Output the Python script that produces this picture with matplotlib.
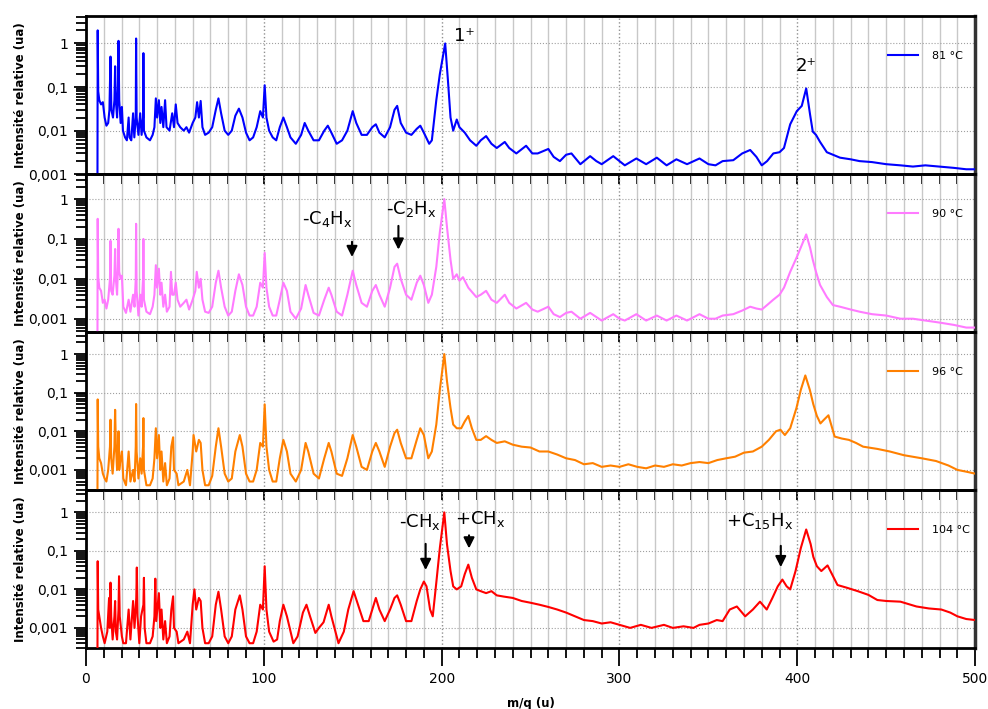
import numpy as np
import matplotlib
matplotlib.use('Agg')
from matplotlib import pyplot as plt
from matplotlib.ticker import FixedLocator, LogLocator, MultipleLocator, NullFormatter

temperatures = ['81 °C', '90 °C', '96 °C', '104 °C']
colors = ['#0000ff', '#ff7bff', '#ff8000', '#ff0000']

spec_81 = np.array([
    (6.4, 1e-5), (6.6, 2.0), (6.9, 0.08), (7.5, 0.05), (8.5, 0.04), (9.5, 0.045), (10.5, 0.02), (11.5, 0.013),
    (12.5, 0.015), (13.2, 0.03), (13.8, 0.5), (14.3, 0.03), (15.2, 0.02), (16.0, 0.05), (16.4, 0.3), (16.8, 0.05),
    (17.5, 0.02), (18.0, 0.1), (18.3, 1.15), (18.7, 0.05), (19.5, 0.015), (20.2, 0.035), (20.8, 0.01), (22, 0.007),
    (23, 0.006), (24, 0.02), (24.5, 0.007), (25.5, 0.006), (26.5, 0.025), (27.2, 0.007), (28.0, 0.02), (28.2, 1.3),
    (28.5, 0.02), (29.5, 0.008), (30.5, 0.025), (31.3, 0.008), (32.1, 0.02), (32.3, 0.6), (32.6, 0.01), (34, 0.007),
    (36, 0.006), (37.5, 0.008), (38.5, 0.012), (39.3, 0.055), (40, 0.02), (41, 0.05), (41.8, 0.015), (42.5, 0.035),
    (43.5, 0.012), (44.5, 0.05), (45.3, 0.012), (47, 0.01), (48.5, 0.025), (49.5, 0.012), (50.5, 0.04), (51.5, 0.015),
    (53, 0.012), (55, 0.01), (56.5, 0.012), (58, 0.009), (60, 0.015), (61.5, 0.02), (62.5, 0.045), (63.5, 0.02),
    (64.5, 0.048), (65.5, 0.012), (67, 0.008), (69, 0.009), (71, 0.012), (73, 0.03), (74.5, 0.055), (76, 0.025),
    (78, 0.01), (80, 0.008), (82, 0.01), (84, 0.022), (86, 0.032), (88, 0.02), (90, 0.009), (92, 0.006), (94, 0.007),
    (96, 0.012), (98, 0.028), (99.5, 0.02), (100.5, 0.11), (101.5, 0.02), (103, 0.01), (105, 0.007), (107, 0.006),
    (109, 0.012), (111, 0.02), (113, 0.012), (115, 0.007), (118, 0.005), (121, 0.008), (123, 0.015), (125, 0.01),
    (128, 0.006), (131, 0.006), (134, 0.01), (136, 0.013), (138, 0.009), (141, 0.005), (144, 0.006), (147, 0.01),
    (150, 0.028), (152, 0.015), (155, 0.008), (158, 0.008), (161, 0.012), (163, 0.014), (165, 0.009), (168, 0.007),
    (171, 0.012), (173.5, 0.03), (175, 0.037), (177, 0.015), (180, 0.009), (183, 0.008), (186, 0.011), (188, 0.013),
    (190, 0.009), (193, 0.005), (194.5, 0.006), (197, 0.05), (199, 0.2), (202, 1.0), (203.5, 0.15), (205, 0.02),
    (206.5, 0.01), (208.5, 0.018), (210, 0.012), (213, 0.009), (216, 0.006), (219.5, 0.0045), (222, 0.006),
    (225, 0.0075), (228, 0.005), (231, 0.004), (235.5, 0.0055), (238, 0.004), (242, 0.003), (247.5, 0.0045),
    (251, 0.003), (254, 0.003), (260, 0.0038), (263, 0.0025), (266.5, 0.002), (270, 0.0028), (273, 0.003),
    (278, 0.0017), (283.5, 0.0026), (287, 0.002), (290, 0.0017), (296.5, 0.0026), (300, 0.002), (303, 0.0016),
    (309.5, 0.0023), (315, 0.0017), (321, 0.0024), (326.5, 0.0016), (332, 0.0022), (338, 0.0017), (345, 0.0023),
    (350, 0.0017), (354, 0.0016), (358, 0.002), (364, 0.0021), (369, 0.003), (373.5, 0.0036), (377, 0.0025),
    (380, 0.0016), (383, 0.002), (386.5, 0.003), (390, 0.0032), (392.5, 0.004), (396, 0.014), (399.7, 0.028),
    (402.5, 0.037), (405, 0.093), (407.2, 0.023), (408.7, 0.0095), (410.5, 0.008), (412.8, 0.0055), (416.6, 0.0032),
    (420, 0.0028), (424, 0.0024), (430, 0.0022), (435, 0.002), (442, 0.0019), (450, 0.0017), (458, 0.0016),
    (465, 0.0015), (472, 0.0016), (480, 0.0015), (488, 0.0014), (495, 0.0013), (500, 0.0013),
])

spec_90 = np.array([
    (6.4, 1e-5), (6.6, 0.32), (6.9, 0.011), (7.5, 0.006), (8.5, 0.005), (9.5, 0.0025), (10.5, 0.003), (11.5, 0.0018),
    (12.5, 0.003), (13.5, 0.01), (13.8, 0.09), (14.2, 0.005), (15, 0.004), (16, 0.012), (16.4, 0.056), (16.8, 0.01),
    (17.5, 0.004), (18.0, 0.02), (18.3, 0.18), (18.7, 0.015), (19.5, 0.01), (20.2, 0.012), (21, 0.002),
    (22.5, 0.0014), (24, 0.003), (25, 0.0015), (26.5, 0.004), (27.3, 0.002), (28.0, 0.01), (28.2, 0.24),
    (28.5, 0.005), (29.5, 0.0012), (30.5, 0.004), (31.3, 0.002), (32.1, 0.01), (32.3, 0.1), (32.6, 0.003),
    (34, 0.0015), (36, 0.0013), (37.5, 0.002), (38.5, 0.004), (39.3, 0.022), (40, 0.006), (41, 0.018), (41.8, 0.004),
    (42.5, 0.008), (43.5, 0.002), (44.5, 0.004), (45.5, 0.0015), (47, 0.002), (47.8, 0.015), (48.5, 0.004),
    (49.5, 0.004), (50.5, 0.008), (51.5, 0.003), (53, 0.002), (55, 0.0025), (56.5, 0.003), (58, 0.0017), (60, 0.003),
    (61.5, 0.005), (62.3, 0.015), (63.5, 0.006), (64.5, 0.01), (65.5, 0.003), (67, 0.0015), (69, 0.0014),
    (71, 0.002), (73, 0.008), (74.5, 0.016), (76, 0.006), (78, 0.002), (80, 0.0012), (82, 0.0015), (84, 0.005),
    (86, 0.013), (88, 0.007), (90, 0.002), (92, 0.0012), (94, 0.0012), (96, 0.002), (98, 0.008), (99.5, 0.006),
    (100.5, 0.045), (101.5, 0.006), (103, 0.002), (105, 0.0012), (107, 0.0012), (109, 0.003), (111, 0.008),
    (113, 0.005), (115, 0.0015), (118, 0.001), (121, 0.0018), (123.5, 0.007), (125, 0.004), (128, 0.0014),
    (131, 0.0012), (134, 0.003), (136.5, 0.006), (138, 0.004), (141, 0.0015), (144, 0.0012), (147, 0.004),
    (150, 0.016), (152, 0.007), (155, 0.0025), (158, 0.002), (161, 0.005), (163, 0.007), (165, 0.004), (168, 0.002),
    (171, 0.006), (173.5, 0.02), (175, 0.024), (177, 0.01), (180, 0.004), (183, 0.003), (186, 0.008), (188, 0.012),
    (190, 0.007), (192.5, 0.0025), (194.5, 0.004), (197, 0.02), (199, 0.15), (201.5, 1.0), (203, 0.2), (205, 0.03),
    (206.5, 0.01), (208.5, 0.013), (210, 0.009), (212, 0.011), (215, 0.006), (219.5, 0.0035), (222, 0.004),
    (225, 0.005), (228, 0.003), (231, 0.0025), (235.5, 0.004), (238, 0.0025), (242, 0.0018), (247.5, 0.0025),
    (251, 0.0017), (254, 0.0015), (260, 0.002), (263, 0.0013), (266.5, 0.0011), (270, 0.0014), (273, 0.0015),
    (278, 0.001), (283.5, 0.0014), (287, 0.0011), (290, 0.0009), (296.5, 0.0013), (300, 0.001), (303, 0.0009),
    (309.5, 0.0013), (315, 0.0009), (321, 0.0012), (326.5, 0.0009), (332, 0.0012), (338, 0.0009), (345, 0.0013),
    (350, 0.001), (354, 0.001), (358, 0.0012), (364, 0.0013), (369, 0.0016), (373.5, 0.002), (377, 0.0018),
    (380, 0.0017), (383, 0.0022), (386.5, 0.003), (390, 0.004), (392.5, 0.006), (396, 0.015), (399.7, 0.035),
    (402.5, 0.07), (405, 0.13), (407.2, 0.06), (408.7, 0.03), (410.5, 0.015), (412.8, 0.007), (416.6, 0.0035),
    (420, 0.0022), (424, 0.002), (430, 0.0017), (435, 0.0015), (442, 0.0013), (450, 0.0012), (458, 0.001),
    (465, 0.001), (472, 0.0009), (480, 0.0008), (488, 0.0007), (495, 0.0006), (500, 0.0006),
])

spec_96 = np.array([
    (6.4, 1e-5), (6.6, 0.067), (6.9, 0.004), (7.5, 0.002), (8.5, 0.0015), (9.5, 0.0008), (10.5, 0.0006),
    (11.5, 0.0005), (12.5, 0.001), (13.5, 0.004), (13.8, 0.02), (14.2, 0.002), (15, 0.0008), (16, 0.004),
    (16.4, 0.036), (16.8, 0.005), (17.5, 0.001), (18.0, 0.002), (18.3, 0.01), (18.7, 0.001), (19.5, 0.002),
    (20.2, 0.003), (21, 0.0006), (22.5, 0.0004), (24, 0.003), (25, 0.0005), (26.5, 0.001), (27.3, 0.0005),
    (28.0, 0.004), (28.2, 0.051), (28.5, 0.003), (29.5, 0.0006), (30.5, 0.002), (31.3, 0.0008), (32.1, 0.004),
    (32.3, 0.022), (32.6, 0.001), (34, 0.0004), (36, 0.0004), (37.5, 0.0006), (38.5, 0.002), (39.3, 0.012),
    (40, 0.002), (41, 0.008), (41.8, 0.001), (42.5, 0.003), (43.5, 0.0005), (44.5, 0.0015), (45.5, 0.0004),
    (47, 0.0006), (48, 0.004), (49, 0.007), (49.5, 0.001), (51, 0.0008), (52, 0.0004), (55, 0.0005), (57, 0.001),
    (58.5, 0.0004), (60, 0.003), (60.5, 0.008), (62, 0.003), (63.5, 0.006), (64.5, 0.005), (65.5, 0.001),
    (67, 0.0004), (69, 0.0004), (71, 0.0007), (73, 0.004), (74.5, 0.012), (76, 0.004), (78, 0.0008), (80, 0.0005),
    (82, 0.0006), (84, 0.003), (86.5, 0.008), (88, 0.004), (90, 0.0008), (92, 0.0005), (94, 0.0005), (96, 0.001),
    (98, 0.005), (99.5, 0.004), (100.5, 0.05), (101.5, 0.004), (103, 0.001), (105, 0.0005), (107, 0.0005),
    (109, 0.002), (111, 0.006), (113, 0.003), (115, 0.0008), (118, 0.0005), (121, 0.001), (123.5, 0.005),
    (125, 0.003), (128, 0.0008), (131, 0.0006), (134, 0.002), (136.5, 0.005), (138, 0.003), (141, 0.0008),
    (144, 0.0007), (147, 0.002), (150, 0.008), (152, 0.004), (155, 0.0012), (158, 0.001), (161, 0.003),
    (163, 0.005), (165, 0.003), (168, 0.0012), (171, 0.004), (173.5, 0.009), (175, 0.011), (177, 0.005),
    (180, 0.002), (183, 0.002), (186, 0.006), (188, 0.012), (190, 0.008), (192.5, 0.002), (194.5, 0.003),
    (197, 0.015), (199, 0.12), (201.5, 1.0), (203, 0.2), (205, 0.04), (206.5, 0.015), (208.5, 0.012), (211, 0.012),
    (213, 0.018), (215, 0.025), (217, 0.012), (219.5, 0.006), (222, 0.006), (225, 0.0075), (228, 0.006),
    (231, 0.005), (235.5, 0.0055), (240, 0.0045), (245, 0.004), (250, 0.0038), (255, 0.003), (260, 0.003),
    (265, 0.0025), (270, 0.002), (275, 0.0018), (280, 0.0014), (285, 0.0015), (290, 0.0012), (295, 0.0013),
    (300, 0.0012), (305, 0.0014), (310, 0.0012), (315, 0.0011), (320, 0.0013), (325, 0.0012), (330, 0.0014),
    (335, 0.0013), (340, 0.0015), (345, 0.0016), (350, 0.0015), (355, 0.0018), (360, 0.002), (365, 0.0022),
    (370, 0.0028), (375, 0.003), (380, 0.004), (384, 0.006), (388, 0.01), (390.5, 0.011), (393, 0.008),
    (396, 0.012), (399.5, 0.04), (402, 0.12), (404.5, 0.28), (407, 0.12), (409, 0.05), (411, 0.025), (413, 0.016),
    (415, 0.02), (417.5, 0.026), (419, 0.015), (421, 0.0073), (425, 0.0065), (429, 0.006), (433, 0.005),
    (437, 0.004), (445, 0.0035), (452, 0.003), (460, 0.0024), (470, 0.002), (478, 0.0017), (485, 0.0013),
    (490, 0.001), (495, 0.0009), (500, 0.0008),
])

spec_104 = np.array([
    (6.4, 1e-5), (6.6, 0.054), (6.9, 0.003), (7.5, 0.002), (8.5, 0.001), (9.5, 0.0006), (10.5, 0.0004),
    (12, 0.0008), (13, 0.006), (13.3, 0.001), (13.8, 0.015), (14.2, 0.002), (15, 0.0005), (16, 0.002),
    (16.4, 0.005), (16.8, 0.0008), (17.5, 0.0005), (18.3, 0.003), (18.6, 0.022), (19, 0.002), (20.2, 0.0006),
    (21, 0.0004), (22.5, 0.0004), (24, 0.003), (25, 0.0005), (26.5, 0.005), (27.3, 0.001), (28.3, 0.006),
    (28.6, 0.037), (29, 0.002), (30, 0.0004), (31, 0.002), (32.3, 0.004), (32.6, 0.02), (33, 0.001), (34, 0.0004),
    (36, 0.0004), (37.5, 0.0006), (38.5, 0.002), (39, 0.019), (39.5, 0.0015), (41, 0.008), (41.8, 0.001),
    (42.5, 0.003), (43.5, 0.0005), (44.5, 0.0015), (45.5, 0.0004), (47, 0.0006), (48, 0.003), (49, 0.0066),
    (49.5, 0.001), (51, 0.0008), (52, 0.0004), (55, 0.0005), (57, 0.0008), (58.5, 0.0004), (60, 0.004),
    (61, 0.01), (62, 0.003), (63.5, 0.006), (64.5, 0.005), (65.5, 0.001), (67, 0.0004), (69, 0.0004),
    (71, 0.0006), (73, 0.004), (74.5, 0.0087), (76, 0.003), (78, 0.0006), (80, 0.0004), (82, 0.0006),
    (84, 0.003), (86.5, 0.007), (88, 0.003), (90, 0.0006), (92, 0.0004), (94, 0.0004), (96, 0.0008), (98, 0.004),
    (99.5, 0.003), (100.5, 0.04), (101.5, 0.003), (103, 0.0008), (105.5, 0.00044), (107.5, 0.0005), (109, 0.0015),
    (111, 0.004), (113, 0.002), (116.6, 0.0004), (119, 0.0006), (122, 0.0025), (124, 0.004), (126, 0.002),
    (129, 0.00074), (131, 0.001), (133.6, 0.0014), (136.5, 0.004), (138, 0.002), (142, 0.0004), (145, 0.0008),
    (147.5, 0.003), (150.5, 0.009), (153, 0.004), (156, 0.0015), (159, 0.0015), (161, 0.003), (163, 0.006),
    (165, 0.003), (168, 0.0015), (171, 0.003), (173.5, 0.006), (175, 0.007), (177, 0.004), (180, 0.0015),
    (183, 0.0015), (186, 0.005), (188, 0.01), (190, 0.016), (191.5, 0.012), (193.5, 0.003), (195, 0.002),
    (197, 0.015), (199, 0.12), (201.5, 1.0), (203, 0.15), (205, 0.03), (206.5, 0.012), (208.5, 0.01), (211, 0.012),
    (213, 0.025), (215, 0.044), (217, 0.02), (219.5, 0.01), (222, 0.009), (225, 0.008), (228, 0.009), (231, 0.007),
    (235, 0.0065), (240, 0.006), (245, 0.005), (250, 0.0045), (255, 0.004), (260, 0.0035), (265, 0.003),
    (270, 0.0025), (275, 0.002), (280, 0.0016), (285, 0.0015), (290, 0.0013), (295, 0.0014), (300, 0.0012),
    (306, 0.001), (312, 0.0012), (318, 0.001), (325, 0.0012), (330, 0.001), (336, 0.0011), (341.6, 0.001),
    (345, 0.0012), (350, 0.0013), (354.7, 0.0016), (358, 0.0015), (362, 0.003), (366, 0.0036), (370.7, 0.002),
    (375, 0.003), (379, 0.0048), (382.8, 0.003), (386, 0.006), (389, 0.012), (391.6, 0.018), (394, 0.012),
    (396, 0.01), (399, 0.03), (402, 0.12), (405, 0.36), (407.5, 0.15), (409, 0.07), (411, 0.04), (413.5, 0.03),
    (417, 0.042), (419.5, 0.025), (422.6, 0.013), (428, 0.011), (434, 0.009), (440, 0.0072), (445, 0.0053),
    (450, 0.005), (458, 0.0048), (467, 0.0036), (474, 0.0032), (481, 0.003), (486, 0.0025), (490, 0.002),
    (495, 0.0017), (500, 0.0016),
])

spectra = [spec_81, spec_90, spec_96, spec_104]
ylims = [(1e-3, 4.2), (4.6e-4, 4.2), (3e-4, 3.7), (3e-4, 3.8)]

ytick_vals = [1e-3, 1e-2, 1e-1, 1]
ytick_labels = ['0,001', '0,01', '0,1', '1']

# panneau, texte, x texte, y texte, x fleche, y depart, y pointe
annotations = [
    (0, '1⁺', 213, 1.5, None, None, None),
    (0, '2⁺', 405, 0.31, None, None, None),
    (1, r'-C$\mathregular{_4}$H$\mathregular{_x}$', 135.5, 0.32, 149.6, 0.1, 0.03),
    (1, r'-C$\mathregular{_2}$H$\mathregular{_x}$', 183, 0.56, 175.7, 0.25, 0.046),
    (3, r'-CH$\mathregular{_x}$', 188, 0.55, 191, 0.18, 0.027),
    (3, r'+CH$\mathregular{_x}$', 221.6, 0.66, 215.4, 0.3, 0.098),
    (3, r'+C$\mathregular{_{15}}$H$\mathregular{_x}$', 379, 0.59, 390.7, 0.16, 0.032),
]

plt.rcParams['font.family'] = 'DejaVu Sans'

f, axes = plt.subplots(4, 1, figsize=(9.88, 7.09), dpi=100, sharex=True)
f.subplots_adjust(left=0.087, right=0.987, bottom=0.086, top=0.977, hspace=0)

for i, ax in enumerate(axes):
    spec = spectra[i]
    ax.set_facecolor('none')
    ax.plot(spec[:, 0], spec[:, 1], color=colors[i], lw=1.5, label=temperatures[i], zorder=3)
    ax.set_yscale('log')
    ax.set_ylim(*ylims[i])
    ax.set_xlim(0, 500)

    ax.yaxis.set_major_locator(FixedLocator(ytick_vals))
    ax.set_yticklabels(ytick_labels)
    ax.yaxis.set_minor_locator(LogLocator(base=10, subs=(2, 3, 4, 5, 6, 7, 8, 9), numticks=20))
    ax.yaxis.set_minor_formatter(NullFormatter())
    ax.xaxis.set_major_locator(MultipleLocator(100))
    ax.xaxis.set_minor_locator(MultipleLocator(10))

    last = (i == len(axes) - 1)
    ax.tick_params(axis='y', which='major', direction='out', length=9, width=1.3, labelsize=10, pad=4)
    ax.tick_params(axis='y', which='minor', direction='out', length=7, width=1.3)
    ax.tick_params(axis='x', which='major', direction='out', length=13 if last else 7, width=1.3,
                   labelsize=10, pad=4)
    ax.tick_params(axis='x', which='minor', direction='out', length=7, width=1.3)

    ax.grid(True, axis='x', which='minor', color='#c8c8c8', lw=1, ls='-', zorder=0)
    ax.grid(True, axis='x', which='major', color='#909090', lw=1, ls=':', zorder=0)
    ax.grid(True, axis='y', which='major', color='#a0a0a0', lw=0.8, ls=':', zorder=0)

    for side in ['left', 'bottom', 'top']:
        ax.spines[side].set_linewidth(2)
    ax.spines['right'].set_linewidth(2.5)
    ax.spines['right'].set_color('#333333')

    ax.set_ylabel('Intensité relative (ua)', fontsize=8.5, fontweight='bold')
    ax.yaxis.set_label_coords(-0.066, 0.5)

    ax.legend(loc='center left', bbox_to_anchor=(0.902, 0.75), frameon=False, fontsize=8,
              handlelength=2.7, handletextpad=1.3, borderaxespad=0, borderpad=0)

for panel, txt, tx, ty, axx, ytail, ytip in annotations:
    ax = axes[panel]
    ax.text(tx, ty, txt, fontsize=13, ha='center', va='center', zorder=5)
    if axx is not None:
        ax.annotate('', xy=(axx, ytip), xytext=(axx, ytail),
                    arrowprops=dict(arrowstyle='-|>', color='k', lw=1.5, mutation_scale=16), zorder=5)

axes[-1].set_xlabel('m/q (u)', fontsize=8.5, fontweight='bold', labelpad=8)

plt.savefig('out.png', dpi=100)
